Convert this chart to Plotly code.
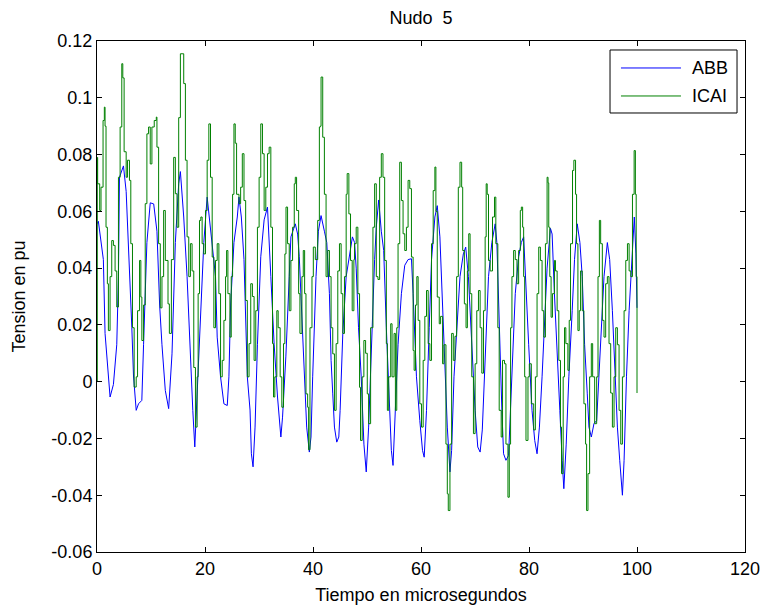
import plotly.graph_objects as go

# ---- data ----
abb_t = [0, 0.25, 1.18, 1.49, 2.42, 3.04, 3.66, 3.97, 4.16, 4.9, 5.4, 5.83, 6.45, 6.76, 7.26, 7.69, 8.3, 8.62,
         9.24, 9.86, 10.5, 11.1, 11.6, 12.03, 12.65, 13.27, 13.89, 14.51, 15.13, 15.44, 16.06, 16.68, 17.3, 17.74,
         18.11, 18.54, 19.17, 19.78, 20.4, 21.02, 21.64, 21.95, 22.26, 22.88, 23.5, 24.12, 24.43, 24.74, 25.36,
         25.98, 26.29, 26.73, 27.22, 27.53, 27.84, 28.34, 28.59, 28.9, 29.27, 29.71, 30.33, 30.95, 31.57, 32.19,
         32.81, 33.43, 34.05, 34.36, 34.98, 35.6, 35.91, 36.72, 37.15, 37.46, 38.08, 38.39, 38.83, 39.32, 39.63,
         39.94, 40.56, 41.0, 41.49, 42.11, 42.55, 43.04, 43.35, 43.66, 43.97, 44.4, 44.78, 45.02, 45.52, 46.14,
         46.76, 47.3, 47.7, 48.0, 48.43, 48.93, 49.43, 49.86, 50.3, 50.79, 51.41, 51.72, 52.16, 52.65, 53.09,
         53.58, 54.02, 54.51, 54.82, 55.13, 55.75, 56.37, 56.99, 57.61, 58.23, 58.54, 59.16, 59.78, 60.28, 60.59,
         61.02, 61.52, 61.95, 62.57, 63.01, 63.5, 64.0, 64.43, 64.87, 65.36, 65.67, 66.11, 66.6, 67.22, 67.84,
         68.28, 68.78, 69.4, 70.02, 70.51, 70.95, 71.35, 71.88, 72.5, 73.12, 73.74, 74.05, 74.36, 74.67, 74.98,
         75.29, 75.73, 76.22, 76.53, 76.97, 77.46, 78.08, 78.58, 79.01, 79.32, 79.94, 80.56, 81.06, 81.49, 81.93,
         82.42, 82.92, 83.35, 83.97, 84.28, 84.71, 85.21, 85.71, 86.14, 86.45, 86.89, 87.38, 88.0, 88.43, 88.93,
         89.43, 89.86, 90.3, 90.79, 91.1, 91.54, 92.03, 92.53, 92.96, 93.4, 93.89, 94.51, 94.94, 95.44, 95.94,
         96.37, 96.8, 97.3, 97.61, 98.05, 98.54, 99.04, 99.5, 99.8, 100.0]
abb_v = [0.0556, 0.0565, 0.043, 0.017, -0.0054, -0.001, 0.013, 0.037, 0.072, 0.076, 0.067, 0.049, 0.019, 0.002,
         -0.0101, -0.0078, -0.0066, 0.013, 0.049, 0.063, 0.0626, 0.053, 0.027, 0.013, -0.0031, -0.0095, 0.0098,
         0.049, 0.0697, 0.074, 0.058, 0.037, 0.0075, -0.0101, -0.023, -0.0043, 0.025, 0.049, 0.065, 0.053, 0.043,
         0.037, 0.0157, 0.0017, -0.0078, -0.0084, 0.0017, 0.027, 0.049, 0.058, 0.065, 0.058, 0.043, 0.025, 0.0017,
         -0.010, -0.0254, -0.030, -0.016, 0.013, 0.044, 0.057, 0.0615, 0.037, 0.013, -0.0054, -0.0195, -0.0125,
         0.009, 0.037, 0.051, 0.0556, 0.052, 0.044, 0.019, 0.0017, -0.016, -0.0248, -0.0195, 0.0017, 0.037, 0.053,
         0.0585, 0.053, 0.049, 0.031, 0.0075, -0.0043, -0.016, -0.0213, -0.0195, -0.0101, 0.017, 0.037, 0.044,
         0.051, 0.049, 0.040, 0.019, 0.0017, -0.022, -0.0318, -0.016, 0.013, 0.043, 0.0544, 0.064, 0.053, 0.0462,
         0.019, -0.0043, -0.0242, -0.0295, -0.0137, 0.013, 0.031, 0.041, 0.043, 0.0433, 0.031, 0.0017, -0.0137,
         -0.0242, -0.0266, -0.0101, 0.019, 0.043, 0.058, 0.062, 0.051, 0.025, 0.0017, -0.016, -0.0318, -0.0242,
         0.0017, 0.019, 0.037, 0.045, 0.0474, 0.037, 0.013, -0.0101, -0.023, -0.0248, -0.017, 0.006, 0.037, 0.049,
         0.0556, 0.049, 0.027, 0.013, -0.0101, -0.0254, -0.0277, -0.026, -0.0101, 0.013, 0.031, 0.044, 0.049,
         0.051, 0.037, 0.013, -0.0101, -0.0207, -0.0254, -0.016, 0.0017, 0.025, 0.040, 0.054, 0.052, 0.031, 0.0075,
         -0.0101, -0.0277, -0.0377, -0.022, 0.0017, 0.025, 0.043, 0.0556, 0.049, 0.037, 0.013, -0.0043, -0.016,
         -0.0195, -0.0148, -0.0137, 0.0017, 0.019, 0.037, 0.049, 0.043, 0.025, 0.0017, -0.016, -0.0277, -0.040,
         -0.0277, 0.0017, 0.025, 0.043, 0.058, 0.045, 0.026]

icai_t = [0, 0.05, 0.12, 0.5, 0.74, 1.12, 1.36, 1.49, 1.67, 1.92, 2.11, 2.42, 2.73, 3.04, 3.35, 3.66, 3.97, 4.28,
          4.59, 4.78, 5.02, 5.4, 5.64, 6.01, 6.26, 6.57, 6.88, 7.26, 7.51, 7.88, 8.12, 8.31, 8.62, 8.93, 9.24, 9.55,
          9.86, 10.17, 10.6, 10.98, 11.1, 11.41, 11.72, 12.03, 12.34, 12.65, 13.15, 13.4, 13.77, 14.2, 14.51,
          14.82, 15.13, 15.44, 15.75, 16.06, 16.37, 16.68, 16.99, 17.3, 17.61, 17.92, 18.23, 18.54, 18.73, 18.98,
          19.23, 19.47, 19.78, 20.09, 20.4, 20.71, 21.02, 21.33, 21.64, 21.95, 22.26, 22.57, 22.88, 23.19, 23.5,
          23.81, 24.0, 24.24, 24.62, 24.86, 25.11, 25.36, 25.6, 25.85, 26.29, 26.6, 26.91, 27.22, 27.53, 27.84,
          28.16, 28.47, 28.78, 29.09, 29.4, 29.71, 30.02, 30.33, 30.64, 30.95, 31.26, 31.57, 31.88, 32.19, 32.5,
          32.69, 32.93, 33.3, 33.55, 33.92, 34.23, 34.54, 34.79, 35.0, 35.29, 35.6, 35.91, 36.22, 36.53, 36.72,
          36.96, 37.34, 37.58, 37.95, 38.2, 38.45, 38.7, 39.01, 39.19, 39.44, 39.81, 40.06, 40.43, 40.87, 41.18,
          41.36, 41.49, 41.8, 42.11, 42.42, 42.73, 43.04, 43.35, 43.66, 43.97, 44.28, 44.59, 44.9, 45.21, 45.52,
          45.83, 46.14, 46.33, 46.64, 46.95, 47.26, 47.57, 47.69, 48.0, 48.31, 48.62, 48.8, 49.11, 49.42, 49.74,
          50.05, 50.3, 50.67, 51.1, 51.41, 51.72, 52.03, 52.34, 52.65, 52.96, 53.27, 53.58, 53.77, 54.02, 54.39,
          54.64, 55.01, 55.26, 55.51, 55.75, 56.06, 56.37, 56.68, 56.99, 57.3, 57.61, 57.92, 58.23, 58.54, 58.73,
          58.98, 59.23, 59.47, 59.78, 60.09, 60.4, 60.71, 61.02, 61.33, 61.64, 61.95, 62.26, 62.57, 62.76, 63.01,
          63.38, 63.63, 64.0, 64.25, 64.62, 64.87, 65.05, 65.36, 65.67, 65.98, 66.29, 66.6, 66.91, 67.22, 67.53,
          67.72, 68.03, 68.34, 68.59, 68.84, 69.09, 69.4, 69.71, 70.02, 70.33, 70.64, 70.95, 71.26, 71.57, 71.88,
          72.07, 72.26, 72.5, 72.81, 73.24, 73.61, 73.86, 74.23, 74.48, 74.85, 75.1, 75.47, 75.73, 76.1, 76.35,
          76.59, 76.84, 77.15, 77.46, 77.77, 78.08, 78.39, 78.58, 78.82, 79.01, 79.2, 79.44, 79.81, 80.06, 80.43,
          80.87, 81.18, 81.49, 81.8, 82.11, 82.42, 82.73, 83.04, 83.35, 83.53, 83.66, 83.85, 84.09, 84.34, 84.71,
          84.9, 85.21, 85.52, 85.83, 86.02, 86.33, 86.58, 86.82, 87.2, 87.45, 87.69, 88.06, 88.31, 88.62, 88.81,
          89.06, 89.3, 89.55, 89.86, 90.17, 90.48, 90.67, 90.92, 91.23, 91.54, 91.79, 92.16, 92.53, 92.78, 93.03,
          93.27, 93.58, 93.89, 94.2, 94.51, 94.82, 95.13, 95.44, 95.75, 96.06, 96.37, 96.68, 96.99, 97.3, 97.61,
          97.92, 98.23, 98.54, 98.85, 99.16, 99.47, 99.7, 99.85, 100.0]
icai_v = [0.0, 0.079, 0.0697, 0.0603, 0.0685, 0.092, 0.0967, 0.09, 0.0544, 0.0345, 0.018, 0.037, 0.0497, 0.048,
          0.039, 0.0263, 0.072, 0.0897, 0.112, 0.107, 0.081, 0.072, 0.078, 0.0709, 0.0486, 0.019, -0.0019, 0.0017,
          0.025, 0.0427, 0.0298, 0.0145, 0.027, 0.0627, 0.0873, 0.0897, 0.0767, 0.0897, 0.092, 0.0932, 0.0826,
          0.0486, 0.026, 0.037, 0.0603, 0.0427, 0.0274, 0.017, 0.043, 0.079, 0.0662, 0.0544, 0.093, 0.1155, 0.1155,
          0.105, 0.078, 0.051, 0.037, 0.0486, 0.039, 0.005, -0.016, 0.0017, 0.031, 0.0568, 0.058, 0.0486, 0.045,
          0.0603, 0.078, 0.0908, 0.072, 0.0439, 0.019, 0.0427, 0.0486, 0.031, 0.0017, 0.0075, 0.0216, 0.037,
          0.0462, 0.031, 0.0157, 0.037, 0.066, 0.0908, 0.084, 0.066, 0.0627, 0.0685, 0.0803, 0.0638, 0.0286,
          0.0017, 0.0134, 0.0345, 0.03, 0.0075, 0.025, 0.0544, 0.072, 0.0908, 0.0803, 0.0603, 0.0685, 0.0803,
          0.0826, 0.0544, 0.0134, -0.0054, 0.0017, 0.025, 0.019, 0.0017, -0.009, 0.0134, 0.045, 0.0615, 0.0486,
          0.025, 0.0427, 0.0544, 0.0697, 0.072, 0.0603, 0.031, 0.017, 0.037, 0.0462, 0.031, -0.0043, -0.009,
          -0.024, 0.019, 0.037, 0.0474, 0.043, 0.0568, 0.0897, 0.09, 0.1073, 0.0861, 0.066, 0.037, 0.0462, 0.037,
          0.019, 0.0098, -0.0101, 0.0134, 0.039, 0.0486, 0.031, 0.017, 0.037, 0.066, 0.0733, 0.0591, 0.0427, 0.025,
          0.043, 0.0486, 0.0544, 0.031, -0.002, -0.0207, 0.0017, 0.0145, 0.01, -0.0043, -0.0148, 0.019, 0.0544,
          0.0697, 0.037, 0.036, 0.072, 0.0803, 0.072, 0.0427, 0.0134, -0.0101, 0.0017, 0.0204, 0.0017, 0.017,
          -0.0101, 0.019, 0.0486, 0.0773, 0.0638, 0.0521, 0.0462, 0.0544, 0.0709, 0.068, 0.0439, 0.011, 0.004,
          0.027, 0.037, 0.0216, -0.0078, -0.016, 0.0075, 0.023, 0.0321, 0.0134, 0.0075, 0.0486, 0.0673, 0.0756,
          0.06, 0.0298, 0.0204, 0.023, 0.0063, 0.013, -0.022, -0.0395, -0.0454, -0.022, 0.017, 0.0075, 0.016,
          0.037, 0.0685, 0.0773, 0.0685, 0.0462, 0.0274, 0.019, 0.039, 0.0521, 0.031, 0.0017, -0.0183, 0.0063,
          0.025, 0.0321, 0.019, 0.003, 0.025, 0.051, 0.0697, 0.066, 0.0427, 0.039, 0.058, 0.065, 0.0486, 0.019,
          -0.0101, -0.0195, 0.0075, 0.0063, -0.022, -0.0407, -0.022, 0.019, 0.037, 0.0462, 0.043, 0.0345, 0.0462,
          0.0603, 0.0615, 0.0544, 0.037, 0.0017, -0.0207, 0.0017, 0.0063, -0.0078, -0.017, 0.0017, 0.031, 0.0474,
          0.0427, 0.025, 0.0157, 0.0486, 0.072, 0.07, 0.0544, 0.037, 0.0227, 0.031, 0.0427, 0.039, 0.025, 0.0075,
          -0.016, -0.0324, 0.0017, 0.019, 0.0134, 0.004, 0.0216, 0.0486, 0.0744, 0.078, 0.066, 0.0486, 0.018,
          0.025, 0.039, 0.025, -0.0078, -0.022, -0.0454, -0.0324, 0.0017, 0.0134, 0.0017, -0.0148, 0.0017, 0.037,
          0.0568, 0.0486, 0.0216, 0.0157, 0.0345, 0.037, 0.0134, -0.004, -0.016, 0.0017, 0.019, 0.013, -0.0101,
          -0.022, 0.0017, 0.025, 0.0427, 0.0486, 0.039, 0.037, 0.066, 0.0814, 0.066, 0.037, -0.004]

series_names = ["ABB", "ICAI"]
series_colors = ["#0000FF", "#008000"]

x_ticks = [0, 20, 40, 60, 80, 100, 120]
y_ticks = [-0.06, -0.04, -0.02, 0, 0.02, 0.04, 0.06, 0.08, 0.1, 0.12]
y_tick_text = ["-0.06", "-0.04", "-0.02", "0", "0.02", "0.04", "0.06", "0.08", "0.1", "0.12"]

FONT = "Liberation Sans, Arial, sans-serif"
FS = 18

fig = go.Figure()
fig.add_trace(go.Scatter(x=abb_t, y=abb_v, mode="lines", name=series_names[0],
                         line=dict(color=series_colors[0], width=1)))
fig.add_trace(go.Scatter(x=icai_t, y=icai_v, mode="lines", name=series_names[1],
                         line=dict(color=series_colors[1], width=1, shape="hv")))

axis_common = dict(showline=True, linecolor="black", linewidth=1, mirror="ticks",
                   ticks="inside", ticklen=5, tickcolor="black", showgrid=False,
                   zeroline=False, automargin=False,
                   tickfont=dict(family=FONT, size=FS, color="black"))

fig.update_layout(
    width=767, height=610,
    margin=dict(l=97, r=22, t=41, b=58),
    paper_bgcolor="white", plot_bgcolor="white",
    font=dict(family=FONT, size=FS, color="black"),
    title=dict(text="Nudo\u00a0 5", x=0.549, xanchor="center", y=0.971, yanchor="middle",
               font=dict(family=FONT, size=FS, color="black")),
    xaxis=dict(range=[0, 120], tickvals=x_ticks,
               title=dict(text="Tiempo en microsegundos", standoff=10,
                          font=dict(family=FONT, size=FS, color="black")),
               **axis_common),
    yaxis=dict(range=[-0.06, 0.12], tickvals=y_ticks, ticktext=y_tick_text,
               title=dict(text="Tension en pu", standoff=21,
                          font=dict(family=FONT, size=FS, color="black")),
               **axis_common),
    showlegend=False,
)

# MATLAB-style legend box (drawn in paper coordinates)
lx0, lx1, ly0, ly1 = 0.7917, 0.9877, 0.8591, 0.9824
fig.add_shape(type="rect", xref="paper", yref="paper", x0=lx0, x1=lx1, y0=ly0, y1=ly1,
              line=dict(color="black", width=1), fillcolor="white", layer="above")
for name, color, yy in zip(series_names, series_colors, [0.9472, 0.8924]):
    fig.add_shape(type="line", xref="paper", yref="paper", x0=0.8086, x1=0.9012, y0=yy, y1=yy,
                  line=dict(color=color, width=1), layer="above")
    fig.add_annotation(xref="paper", yref="paper", x=0.9151, y=yy, text=name, showarrow=False,
                       xanchor="left", yanchor="middle",
                       font=dict(family=FONT, size=FS, color="black"))

fig.write_html("out.html", config={"displayModeBar": False},
               post_script="document.body.style.margin='0px';")
